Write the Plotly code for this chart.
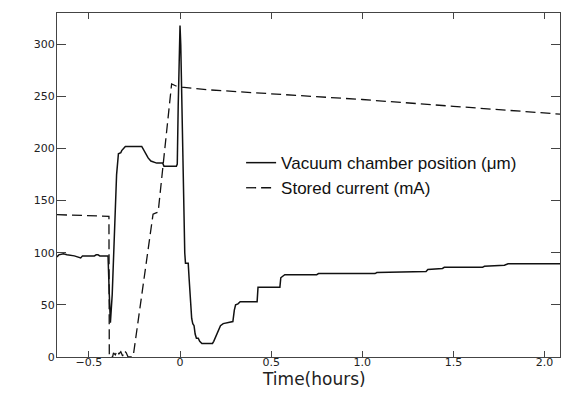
import plotly.graph_objects as go

# Vacuum chamber position (um) vs time (hours)
t_pos = [-0.675, -0.665, -0.64, -0.62, -0.58, -0.555, -0.545, -0.535, -0.5, -0.47, -0.46, -0.45, -0.44, -0.395,
         -0.388, -0.382, -0.372, -0.365, -0.356, -0.348, -0.338, -0.325, -0.32, -0.30, -0.21, -0.2, -0.19, -0.175,
         -0.16, -0.145, -0.128, -0.095, -0.088, -0.02, -0.015, -0.01, -0.003, 0.0, 0.004, 0.01, 0.018, 0.022,
         0.026, 0.03, 0.045, 0.05, 0.058, 0.064, 0.07, 0.077, 0.083, 0.09, 0.1, 0.108, 0.12, 0.178, 0.185,
         0.195, 0.205, 0.215, 0.222, 0.237, 0.26, 0.29, 0.298, 0.305, 0.318, 0.33, 0.423, 0.428, 0.548, 0.553,
         0.56, 0.575, 0.75, 0.76, 1.07, 1.08, 1.35, 1.36, 1.44, 1.45, 1.66, 1.67, 1.78, 1.8, 2.085]
pos = [96, 98, 99, 98, 97, 96, 95, 97, 97, 97, 98, 98, 97, 97,
       60, 33, 60, 100, 141, 175, 195, 196, 198, 202, 202, 199, 196, 191,
       188, 187, 186, 186, 183, 183, 185, 240, 300, 318, 300, 240, 170, 144,
       100, 90, 90, 75, 50, 37, 32, 30, 22, 18, 18, 15, 13, 13, 15,
       19, 24, 27, 30, 32, 33, 34, 45, 50, 51, 53, 53, 67, 67, 76,
       77, 79, 79, 80, 80, 81, 82, 84, 85, 86, 86, 87, 88, 89.5, 89.5]

# Stored current (mA) vs time (hours)
t_cur = [-0.675, -0.39, -0.388, -0.37, -0.365, -0.355, -0.345, -0.335, -0.325, -0.315, -0.305, -0.295,
         -0.285, -0.26, -0.255, -0.18, -0.165, -0.148, -0.135, -0.12, -0.046, -0.022, 0.009, 0.164,
         0.5, 1.0, 1.5, 2.085]
cur = [136.5, 135, 0, 0, 4, 2, 6, 3, 5, 1, 6, 4,
       0, 0, 3, 98, 115, 137, 138, 139, 262, 260, 258.8, 256.2,
       252.5, 247, 240.5, 233]

x_ticks = [-0.5, 0, 0.5, 1.0, 1.5, 2.0]
x_ticktext = ["\u22120.5", "0", "0.5", "1.0", "1.5", "2.0"]
y_ticks = [0, 50, 100, 150, 200, 250, 300]
y_ticktext = ["0", "50", "100", "150", "200", "250", "300"]
x_title = "Time(hours)"

fig = go.Figure()
fig.add_trace(go.Scatter(x=t_pos, y=pos, mode="lines", name="Vacuum chamber position (\u03bcm)",
                         line=dict(color="#111", width=1.5)))
fig.add_trace(go.Scatter(x=t_cur, y=cur, mode="lines", name="Stored current (mA)",
                         line=dict(color="#111", width=1.3, dash="10px,5px")))

axis_common = dict(showline=True, linecolor="#444", linewidth=1, mirror="ticks", ticks="inside",
                   tickcolor="#444", showgrid=False, zeroline=False, automargin=False,
                   tickfont=dict(family="DejaVu Sans", size=11, color="#222"))

fig.update_layout(
    width=561, height=393, autosize=False,
    margin=dict(l=57, r=1, t=13, b=36, autoexpand=False),
    paper_bgcolor="white", plot_bgcolor="white",
    xaxis=dict(range=[-0.675, 2.085], tickvals=x_ticks, ticktext=x_ticktext, ticklen=6,
               ticklabelstandoff=-5, **axis_common),
    yaxis=dict(range=[0, 330], tickvals=y_ticks, ticktext=y_ticktext, ticklen=9,
               ticklabelstandoff=-1, **axis_common),
    showlegend=True,
    legend=dict(x=0.366, y=0.616, xanchor="left", yanchor="top", bgcolor="rgba(0,0,0,0)",
                font=dict(family="Liberation Sans", size=17, color="#111"),
                tracegroupgap=0),
    annotations=[dict(text=x_title, xref="paper", yref="paper", x=0.511, y=-0.063,
                      xanchor="center", yanchor="middle", showarrow=False,
                      font=dict(family="DejaVu Sans", size=17, color="#222"))],
)

post = ("document.body.style.margin='0';document.body.style.padding='0';"
        "document.body.style.overflow='hidden';"
        "var gd=document.getElementById('{plot_id}');"
        "Plotly.relayout(gd,{width:561,height:393});")

fig.write_html("out.html", config={"responsive": False, "displayModeBar": False}, post_script=post)
